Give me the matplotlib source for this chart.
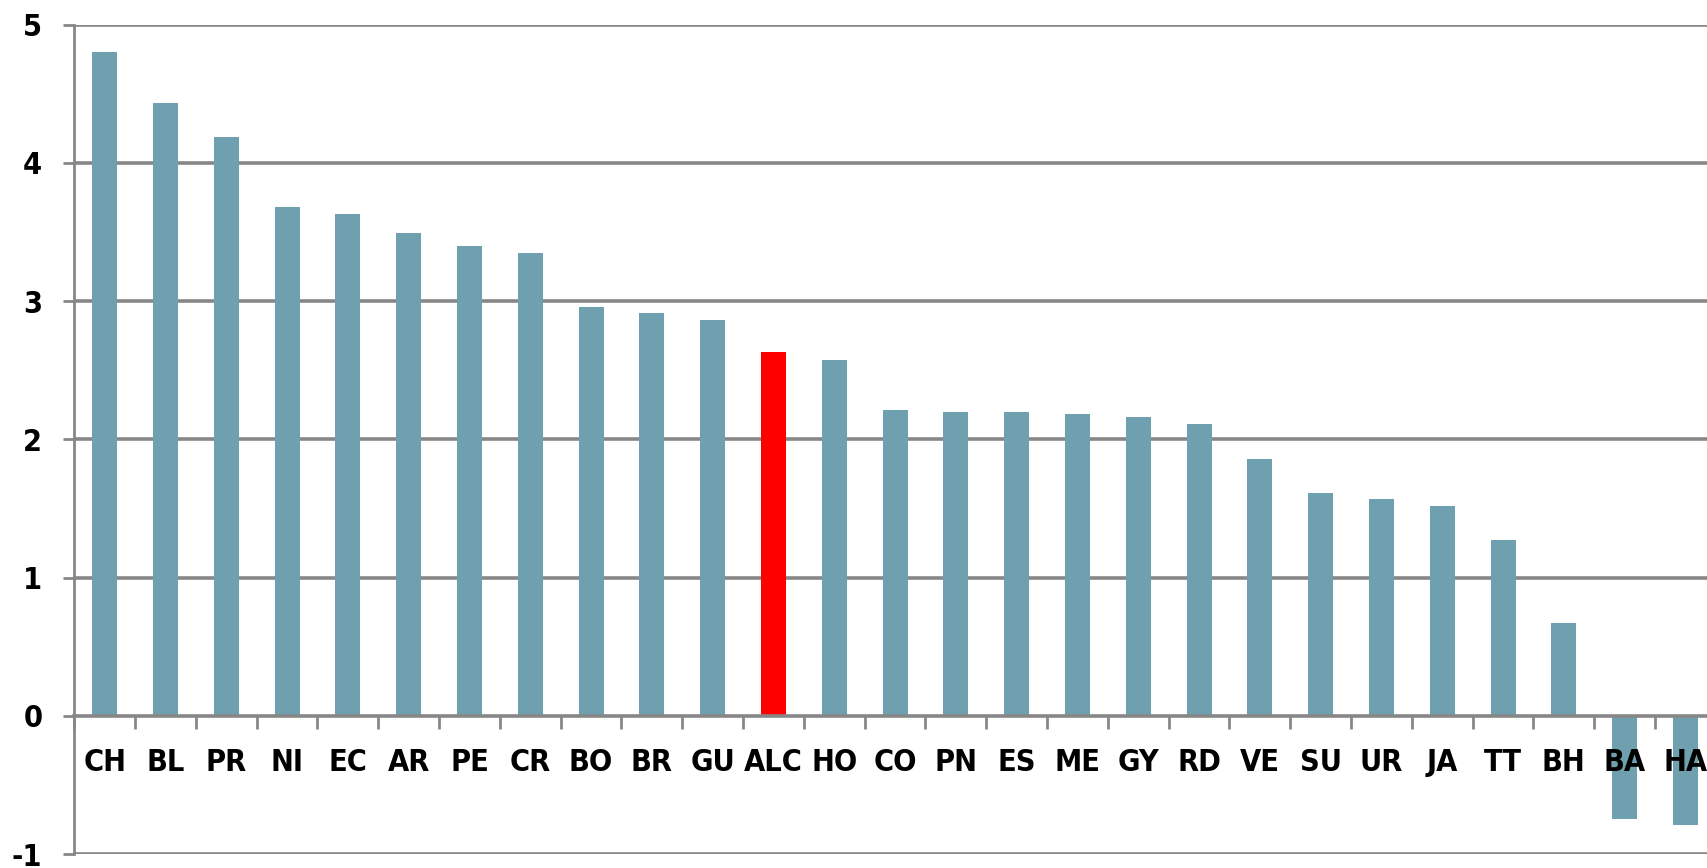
import matplotlib
matplotlib.use("Agg")
import matplotlib.pyplot as plt
from matplotlib import font_manager
import numpy as np

categories = ["CH", "BL", "PR", "NI", "EC", "AR", "PE", "CR", "BO", "BR", "GU", "ALC", "HO",
              "CO", "PN", "ES", "ME", "GY", "RD", "VE", "SU", "UR", "JA", "TT", "BH", "BA", "HA"]
values = [4.80, 4.43, 4.19, 3.68, 3.63, 3.49, 3.40, 3.35, 2.96, 2.91, 2.86, 2.63, 2.57,
          2.21, 2.20, 2.20, 2.18, 2.16, 2.11, 1.86, 1.61, 1.57, 1.52, 1.27, 0.67, -0.75, -0.79]
highlight = "ALC"
yticks = [-1, 0, 1, 2, 3, 4, 5]

BLUE = "#6FA0B0"
RED = "#FF0000"
GRID = "#878787"

# pick a narrow bold font if available
font_kw = dict(family="DejaVu Sans", weight="bold", size=19)
for fam, stretch, size in [("Liberation Sans Narrow", "normal", 24),
                           ("DejaVu Sans", "condensed", 22)]:
    try:
        fp = font_manager.FontProperties(family=fam, weight="bold", stretch=stretch)
        path = font_manager.findfont(fp, fallback_to_default=False)
        if ("Narrow" in path) or ("Condensed" in path):
            font_kw = dict(family=fam, weight="bold", stretch=stretch, size=size)
            break
    except Exception:
        pass

fig = plt.figure(figsize=(17.08, 8.68), dpi=100)
ax = fig.add_axes([0.0435, 0.0161, 0.9611, 0.9556])

x = np.arange(len(categories))
colors = [RED if c == highlight else BLUE for c in categories]
ax.bar(x, values, width=0.41, color=colors, zorder=2)

ax.set_xlim(-0.5, len(categories) - 0.5)
ax.set_ylim(-1, 5)
ax.set_axisbelow(False)

# horizontal grid lines (behind bars)
for v in yticks:
    if v != 0:
        ax.axhline(v, color=GRID, linewidth=2.6, zorder=1)

ax.set_yticks(yticks)
ax.set_yticklabels([str(v) for v in yticks], **font_kw)
ax.tick_params(axis="y", length=8, width=2, color=GRID, pad=15)

# x axis at zero, ticks between categories
for s in ["top", "right"]:
    ax.spines[s].set_visible(False)
ax.spines["bottom"].set_position(("data", 0))
ax.spines["bottom"].set_color(GRID)
ax.spines["bottom"].set_linewidth(2.6)
ax.spines["left"].set_color(GRID)
ax.spines["left"].set_linewidth(2)

ax.set_xticks(np.arange(len(categories) + 1) - 0.5)
ax.set_xticklabels([])
ax.tick_params(axis="x", which="major", length=9, width=2, color=GRID, direction="out")
ax.set_xticks(x, minor=True)
ax.set_xticklabels(categories, minor=True, **font_kw)
ax.tick_params(axis="x", which="minor", length=0, pad=23)

fig.savefig("out.png", dpi=100)
